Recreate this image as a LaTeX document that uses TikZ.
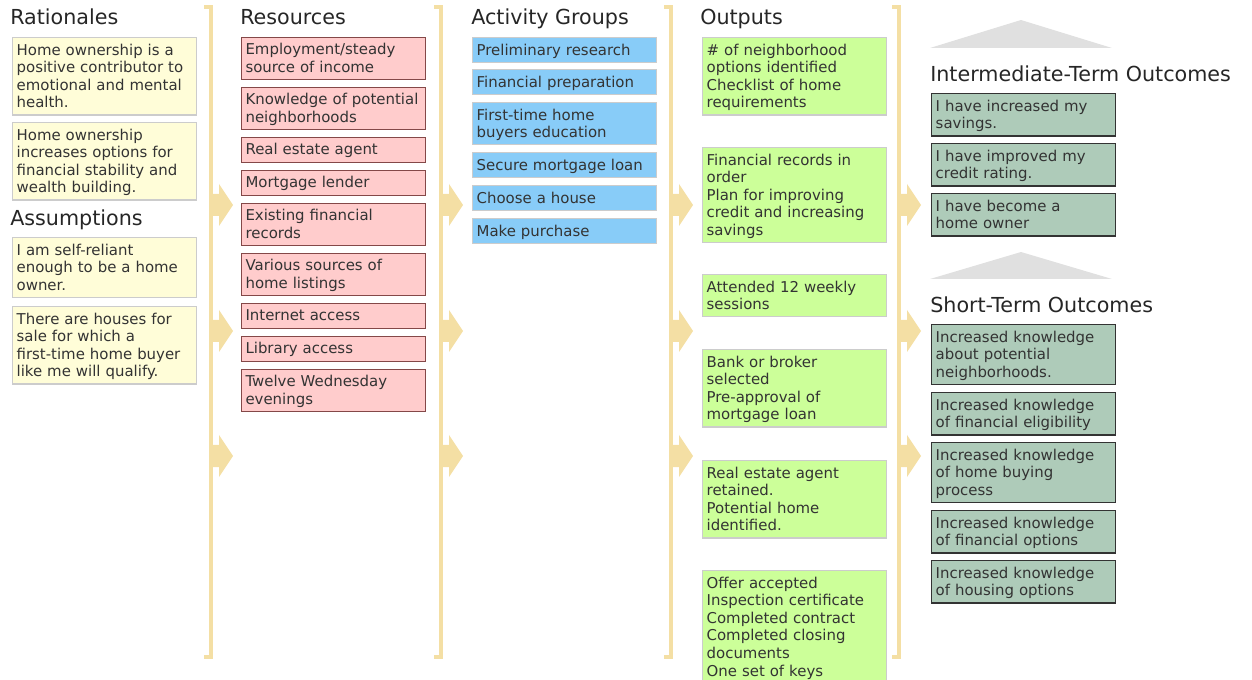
\documentclass[tikz,border=0pt]{standalone}
\usepackage{fontspec}
\setmainfont{DejaVu Sans}
\usepackage{tikz}
\definecolor{txt}{HTML}{333333}
\definecolor{headc}{HTML}{262626}
\definecolor{bracketc}{HTML}{F4DFA4}
\definecolor{trigray}{HTML}{E0E0E0}
\definecolor{ratfill}{HTML}{FFFDD8}
\definecolor{resfill}{HTML}{FFCCCC}
\definecolor{resline}{HTML}{844848}
\definecolor{actfill}{HTML}{88CCF8}
\definecolor{outfill}{HTML}{CCFF99}
\definecolor{oucfill}{HTML}{AECBB9}
\newcommand\boxfont{\fontsize{11.2}{13.2}\selectfont}
\newcommand\headfont{\fontsize{15.5}{18}\selectfont}
\tikzset{
  card/.style={rectangle,anchor=north west,text width=132pt,inner xsep=3pt,
    inner ysep=2.6pt,align=left,font=\boxfont,text=txt,
    execute at begin node=\rule{0pt}{10.5pt},
    execute at end node=\rule[-2.7pt]{0pt}{0pt}},
  ratbox/.style={card,fill=ratfill,draw=black!20,line width=1pt},
  resbox/.style={card,fill=resfill,draw=resline,line width=.8pt},
  actbox/.style={card,fill=actfill,draw=black!20,line width=1pt},
  outbox/.style={card,fill=outfill,draw=black!20,line width=1pt},
  oucbox/.style={card,fill=oucfill,draw=txt,line width=1.1pt},
  head/.style={anchor=base west,inner sep=0pt,font=\headfont,text=headc},
  bracket/.style={draw=bracketc,line width=2.3pt},
}

\begin{document}
\begin{tikzpicture}[x=0.75pt,y=-0.75pt]
  \clip (0,0) rectangle (1252,680);
  % brackets with the block arrows
  \foreach \bx in {211,441,671,899}{
    \draw[bracket] (\bx-7,7) -- (\bx,7) -- (\bx,657) -- (\bx-7,657);
    \foreach \ay in {205,331,456}
      \fill[bracketc] (\bx,\ay-11) -- (\bx+8,\ay-11) -- (\bx+8,\ay-21) -- (\bx+22,\ay)
        -- (\bx+8,\ay+21) -- (\bx+8,\ay+11) -- (\bx,\ay+11) -- cycle;
  }
  \fill[trigray] (930,48) -- (1021,20) -- (1112,48) -- cycle;
  \fill[trigray] (930,279) -- (1021,252) -- (1112,279) -- cycle;

  % rationales and assumptions
  \node[head] (hrat) at (10,25) {Rationales};
  \node[ratbox] (rat1) at (12,37) {Home ownership is a\\positive contributor to\\emotional and mental\\health.};
  \node[ratbox] (rat2) at (12,122) {Home ownership\\increases options for\\financial stability and\\wealth building.};
  \node[head] (hass) at (10,226) {Assumptions};
  \node[ratbox] (ass1) at (12,237) {I am self-reliant\\enough to be a home\\owner.};
  \node[ratbox] (ass2) at (12,306) {There are houses for\\sale for which a\\first-time home buyer\\like me will qualify.};

  % resources
  \node[head] (hres) at (240,25) {Resources};
  \node[resbox] (res1) at (241,37) {Employment/steady\\source of income};
  \node[resbox] (res2) at (241,87) {Knowledge of potential\\neighborhoods};
  \node[resbox] (res3) at (241,137) {Real estate agent};
  \node[resbox] (res4) at (241,170) {Mortgage lender};
  \node[resbox] (res5) at (241,203) {Existing financial\\records};
  \node[resbox] (res6) at (241,253) {Various sources of\\home listings};
  \node[resbox] (res7) at (241,303) {Internet access};
  \node[resbox] (res8) at (241,336) {Library access};
  \node[resbox] (res9) at (241,369) {Twelve Wednesday\\evenings};

  % activity groups
  \node[head] (hact) at (471,25) {Activity Groups};
  \node[actbox] (act1) at (472,37) {Preliminary research};
  \node[actbox] (act2) at (472,69) {Financial preparation};
  \node[actbox] (act3) at (472,102) {First-time home\\buyers education};
  \node[actbox] (act4) at (472,152) {Secure mortgage loan};
  \node[actbox] (act5) at (472,185) {Choose a house};
  \node[actbox] (act6) at (472,218) {Make purchase};

  % outputs
  \node[head] (hout) at (700,25) {Outputs};
  \node[outbox] (out1) at (702,37) {\# of neighborhood\\options identified\\Checklist of home\\requirements};
  \node[outbox] (out2) at (702,147) {Financial records in\\order\\Plan for improving\\credit and increasing\\savings};
  \node[outbox] (out3) at (702,274) {Attended 12 weekly\\sessions};
  \node[outbox] (out4) at (702,349) {Bank or broker\\selected\\Pre-approval of\\mortgage loan};
  \node[outbox] (out5) at (702,460) {Real estate agent\\retained.\\Potential home\\identified.};
  \node[outbox] (out6) at (702,570) {Offer accepted\\Inspection certificate\\Completed contract\\Completed closing\\documents\\One set of keys};

  % outcomes
  \node[head] (hint) at (930,82) {Intermediate-Term Outcomes};
  \node[oucbox] (int1) at (931,93) {I have increased my\\savings.};
  \node[oucbox] (int2) at (931,143) {I have improved my\\credit rating.};
  \node[oucbox] (int3) at (931,193) {I have become a\\home owner};
  \node[head] (hsho) at (930,313) {Short-Term Outcomes};
  \node[oucbox] (sho1) at (931,324) {Increased knowledge\\about potential\\neighborhoods.};
  \node[oucbox] (sho2) at (931,392) {Increased knowledge\\of financial eligibility};
  \node[oucbox] (sho3) at (931,442) {Increased knowledge\\of home buying\\process};
  \node[oucbox] (sho4) at (931,510) {Increased knowledge\\of financial options};
  \node[oucbox] (sho5) at (931,560) {Increased knowledge\\of housing options};
\end{tikzpicture}
\end{document}
